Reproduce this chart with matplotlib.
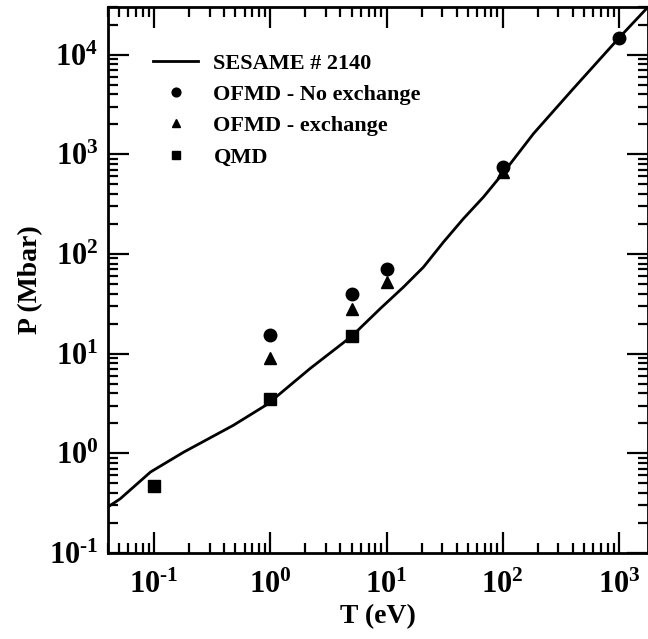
import math
import matplotlib
matplotlib.use("Agg")
import matplotlib.pyplot as plt
from matplotlib.ticker import FuncFormatter, LogLocator, NullFormatter

plt.rcParams['font.family'] = ['Liberation Serif', 'DejaVu Serif']
plt.rcParams['font.weight'] = 'bold'
plt.rcParams['mathtext.fontset'] = 'custom'
plt.rcParams['mathtext.rm'] = 'Liberation Serif:bold'
plt.rcParams['mathtext.bf'] = 'Liberation Serif:bold'
plt.rcParams['mathtext.it'] = 'Liberation Serif:bold'

# SESAME #2140 curve, T (eV) vs P (Mbar)
sesame_T = [0.04, 0.051, 0.093, 0.18, 0.48, 0.94, 2.2, 5.0, 8.83, 14.0,
            20.8, 30.9, 45.9, 68.2, 100.0, 184.0, 393.0, 1000.0, 1780.0]
sesame_P = [0.29, 0.35, 0.65, 1.03, 1.91, 3.1, 7.1, 14.9, 28.3, 46.6,
            73.9, 131.6, 226.0, 372.0, 640.0, 1610.0, 4375.0, 14650.0, 30000.0]

# orbital-free MD without exchange
ofmd_noex_T = [1, 5, 10, 100, 1000]
ofmd_noex_P = [15.5, 39.6, 70.0, 745.0, 14650.0]

# orbital-free MD with exchange
ofmd_ex_T = [1, 5, 10, 100]
ofmd_ex_P = [9.1, 28.0, 52.0, 660.0]

# quantum MD
qmd_T = [0.1, 1, 5]
qmd_P = [0.47, 3.47, 14.9]


def pow10_label(v, pos):
    e = int(round(math.log10(v)))
    # plain hyphen instead of the wide math minus
    s = str(e).replace('-', '\u2010')
    return r'$\mathbf{10^{%s}}$' % s


fig = plt.figure(figsize=(6.48, 6.39), dpi=100)
ax = fig.add_axes([108 / 648, 86 / 639, 540 / 648, 546 / 639])

ax.plot(sesame_T, sesame_P, 'k-', lw=2.0, label='SESAME # 2140')
ax.plot(ofmd_noex_T, ofmd_noex_P, 'ko', ms=9, ls='none', label='OFMD - No exchange')
ax.plot(ofmd_ex_T, ofmd_ex_P, 'k^', ms=9, ls='none', label='OFMD - exchange')
ax.plot(qmd_T, qmd_P, 'ks', ms=8, ls='none', label='QMD')

ax.set_xscale('log')
ax.set_yscale('log')
ax.set_xlim(0.04, 1780)
ax.set_ylim(0.1, 30000)

for axis in (ax.xaxis, ax.yaxis):
    axis.set_major_locator(LogLocator(base=10, numticks=20))
    axis.set_minor_locator(LogLocator(base=10, subs=range(2, 10), numticks=20))
    axis.set_major_formatter(FuncFormatter(pow10_label))
    axis.set_minor_formatter(NullFormatter())

ax.tick_params(which='both', direction='in', top=True, right=True, width=1.6,
               labelsize=22)
ax.tick_params(which='major', length=15)
ax.tick_params(which='minor', length=7)
ax.tick_params(axis='y', which='major', pad=7)
ax.tick_params(axis='x', which='major', pad=13)
for s in ax.spines.values():
    s.set_linewidth(2.0)

ax.set_xlabel('T (eV)', fontsize=20, fontweight='bold', labelpad=3)
ax.set_ylabel('P (Mbar)', fontsize=20, fontweight='bold', labelpad=4)

leg = ax.legend(loc='upper left', bbox_to_anchor=(0.047, 0.952), frameon=False,
                fontsize=16, handlelength=2.0, handletextpad=0.7,
                labelspacing=0.48, markerscale=0.7)
for t in leg.get_texts():
    t.set_fontweight('bold')

fig.savefig('out.png', dpi=100)
